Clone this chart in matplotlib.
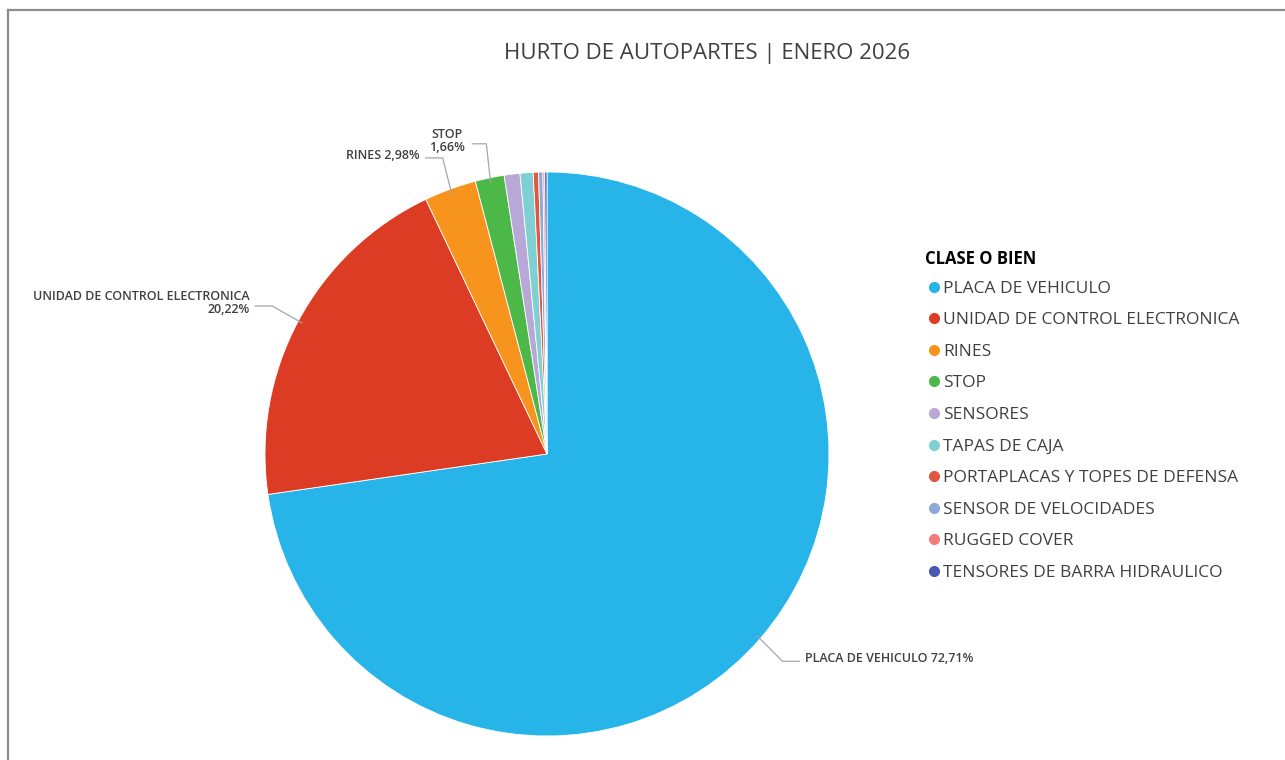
import numpy as np
import matplotlib
matplotlib.use('Agg')
import matplotlib.pyplot as plt
from matplotlib.lines import Line2D

plt.rcParams['font.family'] = ['Open Sans', 'DejaVu Sans']

# datos
clases = ['PLACA DE VEHICULO', 'UNIDAD DE CONTROL ELECTRONICA', 'RINES', 'STOP',
          'SENSORES', 'TAPAS DE CAJA', 'PORTAPLACAS Y TOPES DE DEFENSA',
          'SENSOR DE VELOCIDADES', 'RUGGED COVER', 'TENSORES DE BARRA HIDRAULICO']
porcentajes = [72.71, 20.22, 2.98, 1.66, 0.90, 0.75, 0.30, 0.25, 0.10, 0.13]
colores = ['#27b4e8', '#dc3b24', '#f7941d', '#4cb848', '#b7a8d8', '#7fd0d3',
           '#e0573f', '#8faad8', '#f27c7c', '#4a59b0']

# etiquetas con linea guia: indice, posicion texto, alineacion
etiquetas = {
    0: ('PLACA DE VEHICULO 72,71%', (0.915, -0.725), 'left'),
    1: ('UNIDAD DE CONTROL ELECTRONICA\n20,22%', (-1.055, 0.535), 'right'),
    2: ('RINES 2,98%', (-0.45, 1.06), 'right'),
    3: ('STOP\n1,66%', (-0.355, 1.11), 'center'),
}

fig = plt.figure(figsize=(12.85, 7.6), dpi=100)
fig.patch.set_facecolor('white')

# marco gris (solo arriba e izquierda)
fig.add_artist(Line2D([8 / 1285, 8 / 1285], [0, 1 - 10 / 760], transform=fig.transFigure,
                      color='#8c8c8c', lw=1.6))
fig.add_artist(Line2D([8 / 1285, 1], [1 - 10 / 760, 1 - 10 / 760], transform=fig.transFigure,
                      color='#8c8c8c', lw=1.6))

cx, cy, r = 547, 454, 282
ax = fig.add_axes([(cx - r) / 1285, (760 - cy - r) / 760, 2 * r / 1285, 2 * r / 760])
wedges, _ = ax.pie(porcentajes, colors=colores, startangle=90, counterclock=False,
                   radius=1, wedgeprops=dict(edgecolor='white', linewidth=0.6))
ax.set_xlim(-1, 1)
ax.set_ylim(-1, 1)
ax.set_clip_on(False)

for i, (txt, (tx, ty), ha) in etiquetas.items():
    w = wedges[i]
    ang = np.deg2rad((w.theta1 + w.theta2) / 2)
    px, py = 0.985 * np.cos(ang), 0.985 * np.sin(ang)
    ax.text(tx, ty, txt, ha=ha, va='center', fontsize=9, fontweight='semibold',
            color='#404040', linespacing=1.05, clip_on=False)
    if ha == 'left':
        x0 = tx - 0.02
        elbow = x0 - 0.06
    elif ha == 'right':
        x0 = tx + 0.02
        elbow = x0 + 0.06
    else:
        x0 = tx + 0.09
        elbow = x0 + 0.05
    ly = ty - 0.01
    ax.plot([x0, elbow, px], [ly, ly, py], color='#a6a6a6', lw=0.9, clip_on=False)

fig.text(707 / 1285, 1 - 53 / 760, 'HURTO DE AUTOPARTES | ENERO 2026', ha='center',
         va='center', fontsize=16, color='#404040')

handles = [Line2D([], [], marker='o', ls='', markersize=7, markerfacecolor=c,
                  markeredgecolor=c) for c in colores]
leg = fig.legend(handles, clases, loc='upper left', bbox_to_anchor=(918 / 1285, 1 - 243 / 760),
                 frameon=False, title='CLASE O BIEN', handletextpad=0.05, handlelength=1.0,
                 labelspacing=0.89, fontsize=12.5, borderaxespad=0,
                 title_fontproperties={'weight': 'bold', 'size': 12})
leg._legend_box.align = 'left'
leg._legend_box.sep = 9
for t in leg.get_texts():
    t.set_color('#404040')

fig.savefig('out.png', dpi=100, facecolor='white')
